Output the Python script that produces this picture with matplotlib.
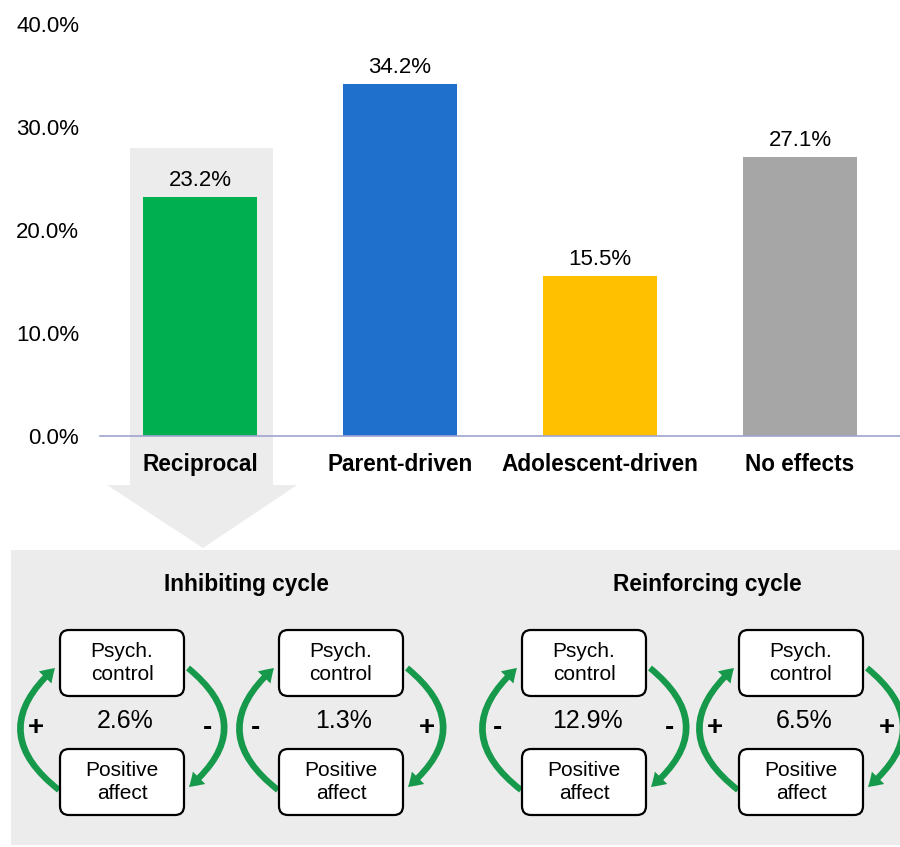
import matplotlib.pyplot as plt
from matplotlib.patches import FancyBboxPatch, FancyArrowPatch, Polygon, Rectangle

plt.rcParams['font.family'] = ['Liberation Sans', 'DejaVu Sans']

# bar chart data
categories = ['Reciprocal', 'Parent-driven', 'Adolescent-driven', 'No effects']
shares = [23.2, 34.2, 15.5, 27.1]
bar_colors = ['#00b050', '#1e70cc', '#ffc000', '#a6a6a6']
yticks = [0, 10, 20, 30, 40]

# reciprocal breakdown into cycles
cycle_titles = ['Inhibiting cycle', 'Reinforcing cycle']
cycle_shares = [2.6, 1.3, 12.9, 6.5]
left_signs = ['+', '-', '-', '+']
right_signs = ['-', '+', '-', '+']
box_top = 'Psych.\ncontrol'
box_bottom = 'Positive\naffect'

W, H = 900, 847
fig = plt.figure(figsize=(W / 100, H / 100), dpi=100)

# overlay in pixel coords (y down) for the grey shapes and the cycle diagram
dax = fig.add_axes([0, 0, 1, 1], zorder=0)
dax.set_xlim(0, W)
dax.set_ylim(H, 0)
dax.axis('off')

grey = '#ececec'
dax.add_patch(Rectangle((130, 148), 143, 337, color=grey, lw=0))
dax.add_patch(Polygon([(107, 485), (297, 485), (203, 548)], closed=True, color=grey, lw=0))
dax.add_patch(Rectangle((11, 550), 889, 295, color=grey, lw=0))

# bar chart
ax = fig.add_axes([100 / W, 1 - 436 / H, 800 / W, 412 / H], zorder=1)
ax.patch.set_alpha(0)
x = list(range(len(categories)))
ax.bar(x, shares, width=0.57, color=bar_colors)
for xi, v in zip(x, shares):
    ax.annotate(f'{v:.1f}%', (xi, v), xytext=(0, 12), textcoords='offset points',
                ha='center', va='center', fontsize=16)
ax.set_xlim(-0.5, 3.5)
ax.set_ylim(0, 40)
ax.set_yticks(yticks, [f'{t:.1f}%' for t in yticks], fontsize=16)
ax.set_xticks(x, categories, fontsize=16.3, fontweight='bold')
ax.tick_params(axis='both', length=0)
ax.tick_params(axis='y', pad=15)
ax.tick_params(axis='x', pad=12)
for s in ['top', 'right', 'left']:
    ax.spines[s].set_visible(False)
ax.spines['bottom'].set_color('#9ea3cf')
ax.spines['bottom'].set_linewidth(1.2)

# cycle diagrams
centers = [122, 341, 584, 801]
title_x = [246, 707]
bw, bh = 124, 66
top_y, bot_y = 630, 749
green = '#16994a'

for tx, title in zip(title_x, cycle_titles):
    dax.text(tx, 585, title, ha='center', va='center', fontsize=16.3, fontweight='bold')

for cx, pct, ls, rs in zip(centers, cycle_shares, left_signs, right_signs):
    for y0, label in [(top_y, box_top), (bot_y, box_bottom)]:
        dax.add_patch(FancyBboxPatch((cx - bw / 2, y0), bw, bh,
                                     boxstyle='round,pad=0,rounding_size=9',
                                     fc='white', ec='black', lw=1.6, zorder=3))
        dax.text(cx, y0 + bh / 2, label, ha='center', va='center',
                 fontsize=15, linespacing=1.3, zorder=4)
    style = 'simple,head_width=0.9,head_length=0.7,tail_width=0.32'
    # left arc: lower box up to upper box
    dax.add_patch(FancyArrowPatch((cx - bw / 2 - 1, bot_y + 41), (cx - bw / 2 - 5, top_y + 38),
                                  connectionstyle='arc3,rad=-0.6', arrowstyle=style,
                                  mutation_scale=14, color=green, lw=0,
                                  shrinkA=0, shrinkB=0, zorder=2))
    # right arc: upper box down to lower box
    dax.add_patch(FancyArrowPatch((cx + bw / 2 + 4, top_y + 38), (cx + bw / 2 + 5, bot_y + 38),
                                  connectionstyle='arc3,rad=-0.6', arrowstyle=style,
                                  mutation_scale=14, color=green, lw=0,
                                  shrinkA=0, shrinkB=0, zorder=2))
    dax.text(cx + 3, 721, f'{pct:.1f}%', ha='center', va='center', fontsize=18)
    dax.text(cx - 86, 728, ls, ha='center', va='center', fontsize=20, fontweight='bold')
    dax.text(cx + 86, 728, rs, ha='center', va='center', fontsize=20, fontweight='bold')

fig.savefig('out.png', dpi=100)
